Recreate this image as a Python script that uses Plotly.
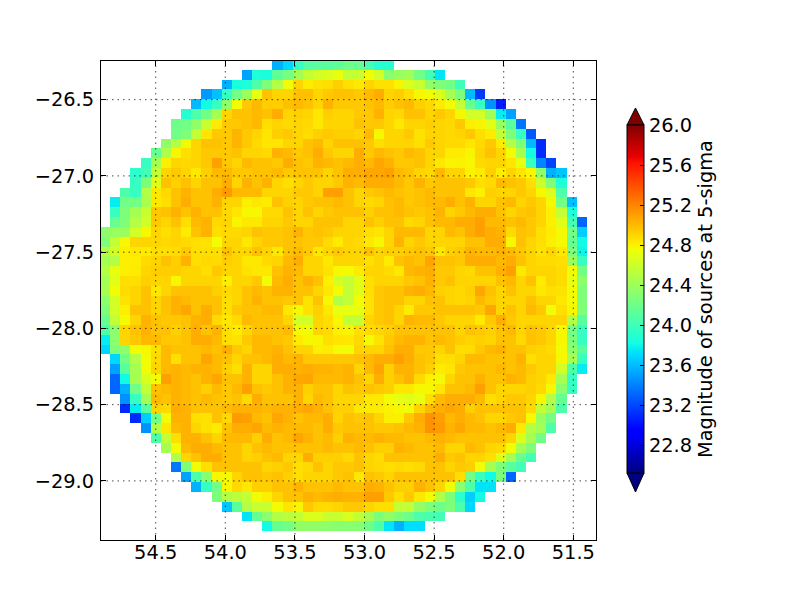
import numpy as np
import plotly.graph_objects as go

# Map values, hundredths of a magnitude above 20 (495 = 24.95), each row is (first column, values)
ROWS = [
(17,[355,368,395,408,410,410,412,418,415,402,388,388]),
(14,[350,385,383,412,422,440,450,455,458,462,450,452,465,455,428,435,438,420,400,372]),
(12,[355,383,385,405,425,445,465,490,478,483,485,492,484,480,490,484,484,472,458,452,432,425,420,398]),
(10,[347,360,395,420,435,462,497,490,490,498,498,490,495,497,497,495,500,505,490,493,485,470,465,458,440,425,358,315]),
(9,[358,380,395,432,465,495,500,493,493,498,500,497,490,503,495,495,495,497,500,493,497,500,492,488,478,465,450,415,395,345,305]),
(8,[388,405,420,440,490,497,497,500,497,505,490,492,490,480,492,490,490,495,495,503,490,488,497,497,490,495,490,470,455,455,438,375,350]),
(7,[418,420,432,452,478,495,495,497,500,485,490,488,490,488,480,490,490,490,497,495,495,490,480,490,490,492,490,488,495,475,472,460,435,410,335]),
(7,[420,425,450,482,495,495,502,495,490,482,492,495,490,486,492,495,492,492,490,500,470,490,490,495,483,490,490,488,490,495,485,478,450,425,395,325]),
(6,[432,445,468,490,497,497,495,502,495,488,482,482,490,490,497,500,490,497,497,497,495,485,490,490,490,485,495,490,488,488,482,488,495,478,445,425,358,310]),
(5,[415,443,472,485,490,495,495,495,497,490,490,488,503,500,495,497,505,495,490,490,505,495,500,497,495,500,497,490,490,478,478,472,490,497,490,465,440,380,310]),
(4,[395,440,475,490,488,490,495,510,495,490,500,497,497,495,505,497,495,503,500,497,500,505,500,507,503,495,495,497,490,480,472,473,470,488,490,490,482,462,395,340,318]),
(3,[390,400,450,490,495,490,480,492,500,500,495,495,497,497,500,495,497,497,497,490,497,505,505,507,507,510,500,497,490,488,500,490,490,473,478,492,476,490,482,470,432,355,362]),
(3,[395,425,460,497,492,497,490,497,497,505,490,503,497,503,490,485,490,495,490,490,495,503,500,505,505,505,500,495,503,495,497,497,497,495,485,488,500,497,495,485,452,425,385]),
(2,[405,395,445,480,488,497,503,497,497,505,512,500,500,500,490,490,490,495,495,490,510,510,497,490,495,497,500,497,495,497,500,497,497,497,482,475,492,490,490,495,490,470,458,405]),
(1,[375,420,420,442,480,485,497,505,497,497,503,490,490,475,480,478,497,492,490,495,497,497,500,497,490,488,490,497,500,495,497,500,500,505,497,503,490,490,497,500,490,495,490,470,420,360]),
(1,[395,425,440,452,495,497,503,497,503,497,497,488,482,470,470,488,488,497,490,497,490,495,497,497,497,492,497,497,500,497,495,497,503,490,495,500,505,505,497,490,495,497,490,475,450,385]),
(1,[415,425,445,455,495,490,497,485,500,503,488,490,472,480,480,490,490,495,490,490,497,497,497,490,490,497,492,497,497,488,490,497,500,500,505,505,510,500,500,497,500,495,490,475,460,400,330]),
(0,[430,435,435,455,470,490,485,490,478,497,503,485,488,488,490,497,495,495,497,503,495,497,495,490,490,490,485,482,490,500,500,500,490,490,500,497,505,510,505,503,488,497,495,485,478,468,420,365]),
(0,[425,450,470,490,490,490,488,490,488,485,483,465,490,490,480,490,495,495,497,497,495,495,487,478,490,488,480,470,490,503,490,495,490,490,490,490,497,497,505,505,470,497,490,485,475,468,415,380]),
(0,[445,455,475,480,478,485,485,487,495,485,485,485,497,490,490,497,490,480,497,500,495,480,490,495,490,490,497,490,492,492,495,497,495,480,492,495,503,500,500,503,500,495,490,483,490,480,425,378]),
(0,[440,445,475,477,487,490,497,493,503,485,488,487,493,490,480,480,488,490,500,505,490,490,480,490,490,490,485,490,478,497,500,497,508,497,497,495,505,505,505,500,505,497,490,487,487,485,435,395]),
(0,[445,462,475,478,490,493,493,493,490,490,485,495,490,490,483,480,480,497,503,500,490,490,483,470,468,478,490,490,487,480,500,503,505,495,495,490,488,497,497,503,510,480,490,490,490,487,465,420]),
(0,[440,460,485,485,492,490,490,470,490,490,490,490,475,490,490,495,465,500,505,497,503,497,475,455,450,460,485,490,490,490,495,497,503,495,497,490,490,490,490,497,500,490,497,478,490,487,462,430]),
(0,[440,465,487,490,497,480,490,497,497,497,497,492,488,490,497,500,497,503,503,497,497,490,480,465,450,460,485,495,497,497,503,505,500,492,490,488,492,507,497,490,497,490,490,480,485,483,465,425]),
(0,[430,455,483,490,497,490,497,503,500,497,497,497,485,490,497,503,497,497,495,497,483,497,470,445,450,465,483,495,497,497,490,490,497,497,490,488,490,500,495,490,490,490,497,490,490,480,465,425]),
(0,[425,455,475,497,497,490,497,503,507,497,505,497,485,495,497,497,500,500,480,468,483,492,480,462,462,462,483,495,497,490,478,495,495,497,497,497,497,495,507,490,497,490,500,495,465,485,470,425]),
(0,[415,450,468,490,503,497,495,495,497,503,505,488,480,487,500,497,497,497,490,455,455,490,485,470,450,450,490,495,497,490,503,500,500,495,490,490,490,478,495,505,495,490,490,490,490,490,445,410]),
(0,[405,430,490,497,503,497,497,492,497,505,497,503,485,478,490,497,497,497,500,468,465,490,487,475,472,485,487,490,492,497,497,497,497,497,497,490,497,495,492,497,500,490,497,495,490,470,420,395]),
(0,[375,430,490,495,500,500,495,495,497,505,505,500,485,483,495,500,500,497,495,478,470,472,485,482,480,488,468,483,495,500,503,503,497,500,497,493,490,492,490,497,497,488,497,495,490,470,425,395]),
(0,[368,425,430,465,470,485,500,497,497,497,500,497,505,495,490,500,500,503,497,490,490,475,478,465,465,490,490,490,497,505,505,495,495,490,497,485,487,495,500,503,497,497,492,490,487,468,430,410]),
(1,[368,420,445,465,488,500,485,497,497,508,500,497,490,497,497,500,505,500,503,495,495,495,495,495,497,500,505,505,510,505,497,495,485,485,490,500,500,497,497,497,503,485,490,490,470,440,395]),
(1,[350,410,440,465,490,500,503,500,503,503,500,492,485,503,490,490,505,505,503,505,503,503,500,503,490,500,508,492,503,503,497,492,478,482,495,497,497,497,500,497,500,495,490,490,455,405,375]),
(1,[330,380,440,458,465,510,503,500,497,503,507,497,497,503,490,490,497,503,507,508,500,500,500,503,497,490,505,492,497,503,488,473,468,490,497,497,503,497,497,503,500,492,490,480,440,395]),
(1,[330,355,420,450,497,500,503,500,497,492,500,495,500,510,497,495,497,503,503,492,497,497,490,497,495,497,495,492,480,480,470,470,482,497,497,500,510,497,490,490,490,492,488,470,430,395]),
(2,[345,395,440,500,497,503,500,497,500,497,495,497,488,505,497,497,497,503,490,500,497,490,490,490,480,480,465,462,460,462,485,500,505,505,505,500,485,490,495,495,490,470,445,415]),
(2,[310,375,410,490,488,505,503,497,497,497,500,503,503,503,500,503,503,505,507,503,497,492,492,480,478,478,473,470,465,490,500,505,508,505,492,497,497,497,497,497,488,450,440,405]),
(3,[310,365,420,465,503,503,485,483,497,488,512,510,500,497,507,503,497,500,500,505,490,497,495,497,490,475,475,495,505,515,510,500,505,500,497,490,490,495,497,468,435,420]),
(4,[345,445,480,500,503,490,483,478,497,505,505,508,500,503,500,500,500,497,505,495,497,497,497,495,495,497,500,503,515,512,503,507,500,500,497,500,505,480,445,440,405]),
(5,[405,450,485,503,503,497,490,500,500,500,492,505,497,500,508,503,497,500,492,503,500,500,503,500,500,497,497,500,503,500,497,497,497,497,497,490,458,440,420]),
(6,[440,465,500,505,505,500,497,497,490,497,500,497,497,497,497,497,500,497,497,500,497,492,492,503,500,497,497,500,490,490,500,497,490,488,465,440,425]),
(7,[445,490,497,505,505,497,497,490,492,497,500,490,490,505,492,492,492,488,497,490,487,497,497,497,497,497,505,495,497,490,490,485,460,440,415,400]),
(7,[335,425,465,485,497,497,497,497,497,490,492,495,485,488,497,490,495,495,497,490,488,485,488,485,488,497,497,490,495,492,465,440,425,410,400]),
(8,[350,405,428,470,468,490,497,497,495,497,492,485,490,490,490,495,497,480,497,495,490,497,497,497,497,497,497,485,420,395,380,425,330]),
(9,[355,395,420,470,488,480,492,492,497,497,503,497,497,497,500,497,497,505,503,497,492,492,503,497,490,465,430,405,372,372]),
(11,[425,445,448,450,465,475,490,497,497,503,500,503,505,503,503,510,510,495,485,495,480,465,445,425,390,365,380]),
(12,[362,410,445,452,452,465,482,472,495,488,487,490,495,495,490,485,485,450,450,433,425,418,425,405,368]),
(14,[372,415,430,445,448,450,458,458,452,452,458,450,440,425,432,425,418,405,403,400]),
(16,[380,415,420,432,432,432,430,428,428,428,418,405,372,355,370,370]),
]
# Correction from the codes used while reading colours to the jet scale
READ_CODE = [300, 425, 445, 455, 465, 470, 480, 490, 520]
TRUE_CODE = [300, 427, 449, 462, 476, 478, 483, 490, 520]

N_COLS, N_ROWS = 49, 49
GRID_X = [54.90, 51.33]
GRID_Y = [-26.24, -29.394]
X_RANGE = [54.893, 51.337]
Y_RANGE = [-29.3874, -26.2466]
X_TICKS = [54.5, 54.0, 53.5, 53.0, 52.5, 52.0, 51.5]
Y_TICKS = [-26.5, -27.0, -27.5, -28.0, -28.5, -29.0]
CB_TICKS = [22.8, 23.2, 23.6, 24.0, 24.4, 24.8, 25.2, 25.6, 26.0]
CB_TITLE = "Magnitude of sources at 5-sigma"
Z_MIN, Z_MAX = 22.52, 26.0

JET = [[0, "rgb(0,0,128)"], [0.11, "rgb(0,0,255)"], [0.125, "rgb(0,0,255)"],
       [0.34, "rgb(0,219,255)"], [0.35, "rgb(0,230,247)"], [0.375, "rgb(21,255,226)"],
       [0.64, "rgb(239,255,8)"], [0.65, "rgb(247,246,0)"], [0.66, "rgb(255,236,0)"],
       [0.89, "rgb(255,19,0)"], [0.91, "rgb(232,0,0)"], [1, "rgb(128,0,0)"]]

z = np.full((N_ROWS, N_COLS), np.nan)
for r, (start, vals) in enumerate(ROWS):
    z[r, start:start + len(vals)] = 20 + np.interp(vals, READ_CODE, TRUE_CODE) / 100

x_edges = np.linspace(GRID_X[0], GRID_X[1], N_COLS + 1)
y_edges = np.linspace(GRID_Y[0], GRID_Y[1], N_ROWS + 1)

FONT = "DejaVu Sans"
W, H = 800, 600
L, T, PW, PH = 101, 61, 495, 479
R, B = W - L - PW, H - T - PH
GRID_LINE = dict(color="rgba(0,0,0,0.7)", width=1, dash="1.5px,4px")


def px(x):
    return (x - L) / PW


def py(y):
    return (T + PH - y) / PH


BAR_L, BAR_R, BAR_T, BAR_B = 627, 644, 125, 473
TIP_T, TIP_B = 108, 492

fig = go.Figure(go.Heatmap(
    z=z, x=x_edges, y=y_edges, colorscale=JET, zmin=Z_MIN, zmax=Z_MAX,
    hoverongaps=False,
    colorbar=dict(
        x=px(BAR_L), xanchor="left", xpad=0, thickness=BAR_R - BAR_L, thicknessmode="pixels",
        y=py(BAR_B), yanchor="bottom", ypad=0, len=py(BAR_T) - py(BAR_B), lenmode="fraction",
        outlinecolor="black", outlinewidth=1,
        tickmode="array", tickvals=CB_TICKS, ticktext=[f"{v:.1f}" for v in CB_TICKS],
        ticks="inside", ticklen=4, tickcolor="black", tickwidth=1,
        tickfont=dict(family=FONT, size=19.4, color="black"),
        title=dict(text=CB_TITLE, side="right", font=dict(family=FONT, size=19.4, color="black")),
    ),
))

shapes = []
for v in X_TICKS:
    shapes.append(dict(type="line", xref="x", yref="paper", x0=v, x1=v, y0=0, y1=1,
                       line=GRID_LINE, layer="above"))
for v in Y_TICKS:
    shapes.append(dict(type="line", xref="paper", yref="y", x0=0, x1=1, y0=v, y1=v,
                       line=GRID_LINE, layer="above"))
mid = (BAR_L + BAR_R) / 2
shapes.append(dict(type="path", xref="paper", yref="paper", fillcolor="#800000",
                   line=dict(color="black", width=1),
                   path=f"M {px(BAR_L)} {py(BAR_T)} L {px(BAR_R)} {py(BAR_T)} L {px(mid)} {py(TIP_T)} Z"))
shapes.append(dict(type="path", xref="paper", yref="paper", fillcolor="#000080",
                   line=dict(color="black", width=1),
                   path=f"M {px(BAR_L)} {py(BAR_B)} L {px(BAR_R)} {py(BAR_B)} L {px(mid)} {py(TIP_B)} Z"))

axis = dict(showgrid=False, zeroline=False, showline=True, linecolor="black", linewidth=1,
            mirror="allticks", ticks="inside", ticklen=5, tickcolor="black", tickwidth=1,
            tickfont=dict(family=FONT, size=19.4, color="black"), tickformat=".1f",
            tickmode="array", layer="above traces")

fig.update_layout(
    width=W, height=H, margin=dict(l=L, r=R, t=T, b=B, pad=0, autoexpand=False),
    paper_bgcolor="white", plot_bgcolor="white",
    xaxis=dict(axis, range=X_RANGE, tickvals=X_TICKS, ticklabelstandoff=-5),
    yaxis=dict(axis, range=Y_RANGE, tickvals=Y_TICKS, ticklabelstandoff=2),
    shapes=shapes, font=dict(family=FONT),
)
fig.write_html("out.html", config={"displayModeBar": False},
               post_script="document.body.style.margin='0';")
